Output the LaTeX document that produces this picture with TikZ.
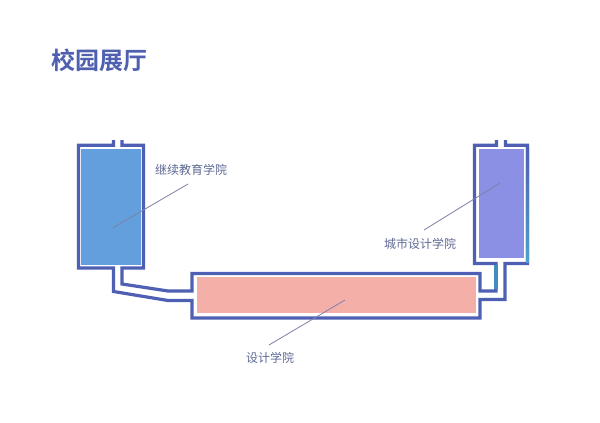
\documentclass[tikz,border=0pt]{standalone}
\usepackage{fontspec}
\newfontfamily\cjk{Noto Sans CJK SC}
\newfontfamily\cjkb{Noto Sans CJK SC Bold}
\definecolor{wall}{HTML}{4F60B4}
\definecolor{teal}{HTML}{4FA0CC}
\definecolor{ductteal}{HTML}{3F8FBC}
\definecolor{roomA}{HTML}{629FDC}
\definecolor{roomB}{HTML}{8C90E4}
\definecolor{roomC}{HTML}{F4B0A8}
\definecolor{labelc}{HTML}{5F6A94}
\definecolor{titlec}{HTML}{4F60B0}
\definecolor{leader}{HTML}{7F7FA8}
\tikzset{
  wallline/.style={draw=wall,line width=3.2pt,line join=miter},
  room/.style={draw=none,inner sep=0pt,outer sep=0pt,anchor=north west},
  roomlabel/.style={font=\cjk\fontsize{12}{13}\selectfont,text=labelc,inner sep=0pt},
  leaderline/.style={draw=leader,line width=0.8pt},
}
\begin{document}
\begin{tikzpicture}[x=1pt,y=-1pt]
\useasboundingbox (0,0) rectangle (600,423);
\fill[white] (0,0) rectangle (600,423);
% rooms
\node[room,fill=roomA,minimum width=60pt,minimum height=116.5pt] (left) at (81,148.7) {};
\node[room,fill=roomB,minimum width=44.5pt,minimum height=109pt] (right) at (479,149) {};
\node[room,fill=roomC,minimum width=279.5pt,minimum height=36pt] (mid) at (196.5,277) {};
% walls
\draw[wallline] (113.5,140) -- (113.5,145.3) -- (78.5,145.3) -- (78.5,268) -- (113.5,268) -- (113.5,291.5) -- (168,300.5) -- (192,300.5) -- (192,318) -- (480,318) -- (480,299.5) -- (505,299.5) -- (505,263.5) -- (527.5,263.5) -- (527.5,145.3) -- (505.5,145.3) -- (505.5,140);
\draw[wallline] (122,140) -- (122,145.3) -- (143.5,145.3) -- (143.5,268) -- (122,268) -- (122,284) -- (168,291) -- (192,291) -- (192,273.5) -- (480,273.5) -- (480,291) -- (496,291) -- (496,263.5) -- (474.5,263.5) -- (474.5,145.3) -- (496.5,145.3) -- (496.5,140);
% teal tint of the right room's right wall and of its duct
\shade[top color=wall,bottom color=teal] (525.9,147) rectangle (529.1,262);
\fill[ductteal] (494.4,265.1) rectangle (497.6,289.4);
% leaders
\coordinate (la) at (113,227.7);
\coordinate (lb) at (188,184);
\coordinate (ra) at (500,183);
\coordinate (rb) at (424,230);
\coordinate (ma) at (345,300);
\coordinate (mb) at (269,345);
\draw[leaderline] (la) -- (lb);
\draw[leaderline] (ra) -- (rb);
\draw[leaderline] (ma) -- (mb);
% labels
\node[font=\cjkb\fontsize{24}{26}\selectfont,text=titlec,inner sep=0pt] (title) at (99,60) {校园展厅};
\node[roomlabel] (ltext) at (191,170) {继续教育学院};
\node[roomlabel] (rtext) at (420,244) {城市设计学院};
\node[roomlabel] (mtext) at (270,358) {设计学院};
\end{tikzpicture}
\end{document}
